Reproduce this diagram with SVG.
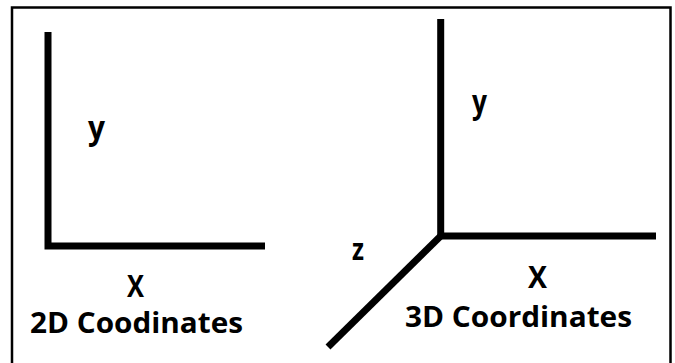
<svg xmlns="http://www.w3.org/2000/svg" width="675" height="363" viewBox="0 0 675 363">
<style>
.frame{stroke:#000;stroke-width:2.5;fill:none}
.axis{stroke:#000;stroke-width:7;fill:none;stroke-linecap:butt}
.lbl{font-family:"Open Sans",Lato,"Liberation Sans",sans-serif;font-weight:bold;fill:#000}
</style>
<rect width="675" height="363" fill="#fff"/>
<g id="frame">
<path class="frame" d="M12 363 V7.5 H670.5 V363"/>
</g>
<g id="connectors">
<path class="axis" d="M48 32 V246 H265"/>
<path class="axis" d="M440.7 19 V236 H656"/>
<path class="axis" d="M440.7 236 L328 347" stroke-linecap="round"/>
</g>
<g id="node-2d">
<text class="lbl" x="88" y="139" font-size="32" textLength="17" lengthAdjust="spacingAndGlyphs">y</text>
<text class="lbl" x="127" y="297" font-size="30" textLength="17" lengthAdjust="spacingAndGlyphs">X</text>
<text class="lbl" x="30" y="333" font-size="29" textLength="213" lengthAdjust="spacingAndGlyphs">2D Coodinates</text>
</g>
<g id="node-3d">
<text class="lbl" x="472" y="113" font-size="32" textLength="15" lengthAdjust="spacingAndGlyphs">y</text>
<text class="lbl" x="352" y="260" font-size="31" textLength="12" lengthAdjust="spacingAndGlyphs">z</text>
<text class="lbl" x="528" y="288" font-size="30" textLength="19" lengthAdjust="spacingAndGlyphs">X</text>
<text class="lbl" x="405" y="327" font-size="29" textLength="227" lengthAdjust="spacingAndGlyphs">3D Coordinates</text>
</g>
</svg>
